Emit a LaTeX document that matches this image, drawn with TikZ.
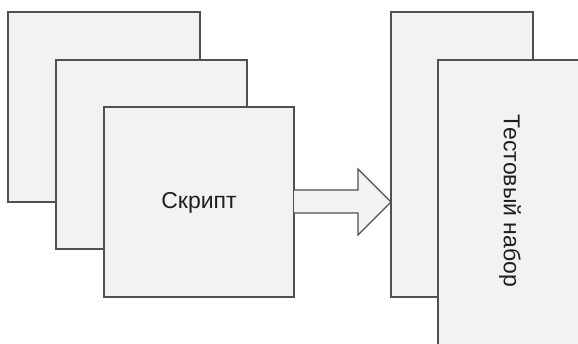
\documentclass[tikz,border=0pt]{standalone}
\usepackage{fontspec}
\setmainfont{Liberation Sans}
\definecolor{boxfill}{HTML}{F2F2F2}
\definecolor{boxline}{HTML}{505050}
\begin{document}
\begin{tikzpicture}[x=1pt,y=-1pt,
  sheet/.style={draw=boxline,fill=boxfill,line width=1.1pt},
  lbl/.style={font=\fontsize{23}{26}\selectfont,text=black!88}]
\useasboundingbox (0,0) rectangle (578,343);
\clip (0,0) rectangle (578,343);
% left stack
\draw[sheet] (8,12) rectangle (200,202);
\draw[sheet] (56,60) rectangle (247,249);
\draw[sheet] (104,107) rectangle (294,297);
\node[lbl] (script) at (199,203) {Скрипт};
% block arrow
\draw[sheet,line join=miter] (294,190) -- (358,190) -- (358,169) -- (391,202) -- (358,235) -- (358,213) -- (294,213);
% right stack
\draw[sheet] (391,12) rectangle (533,297);
\draw[sheet] (438,60) rectangle (600,360);
\node[lbl,rotate=-90] (set) at (510,201) {Тестовый набор};
\end{tikzpicture}
\end{document}
